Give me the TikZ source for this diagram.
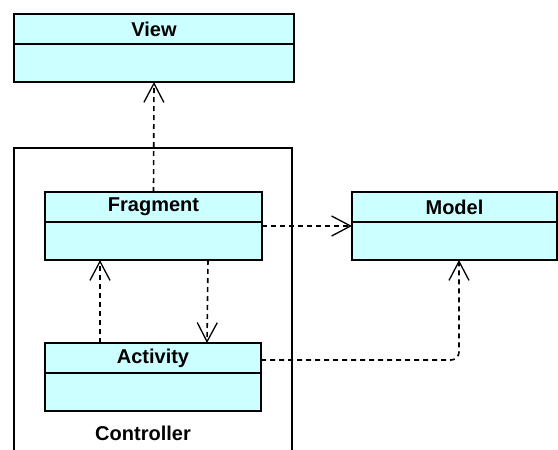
\documentclass[tikz,border=0pt]{standalone}
\usepackage{fontspec}
\setmainfont{Liberation Sans}
\usetikzlibrary{arrows.meta}
\definecolor{classfill}{RGB}{204,255,255}

\begin{document}
\begin{tikzpicture}[x=1pt,y=-1pt,
  classhead/.style={draw, line width=1.5pt, fill=classfill, inner sep=0pt, outer sep=0pt, minimum height=30pt, font=\fontsize{20}{23}\selectfont\bfseries},
  classbody/.style={draw, line width=1.5pt, fill=classfill, inner sep=0pt, outer sep=0pt, minimum height=38pt},
  depend/.style={dash pattern=on 5pt off 4pt, line width=1.6pt, -{Straight Barb[length=19pt,width=20pt,line width=1.3pt]}}]

\useasboundingbox (0,0) rectangle (558,450);

% Controller package frame
\draw[line width=1.5pt] (14,451) -- (14,148) -- (292,148) -- (292,451);
\node[font=\fontsize{20}{23}\selectfont\bfseries] (ctrl) at (143,433) {Controller};

% View class
\node[classhead, minimum width=280pt] (viewhead) at (154,29) {View};
\node[classbody, minimum width=280pt] (viewbody) at (154,63) {};

% Fragment class
\node[classhead, minimum width=217pt] (fraghead) at (153.5,207) {Fragment};
\node[classbody, minimum width=217pt] (fragbody) at (153.5,241) {};

% Model class
\node[classhead, minimum width=205pt] (modelhead) at (454.5,207) {Model};
\node[classbody, minimum width=205pt] (modelbody) at (454.5,241) {};

% Activity class
\node[classhead, minimum width=216pt] (acthead) at (153,358) {Activity};
\node[classbody, minimum width=216pt] (actbody) at (153,392) {};

% Dependencies
\draw[depend] (fraghead.north) -- (viewbody.south); % Fragment uses View
\draw[depend] ([yshift=-4pt]fragbody.north east) -- ([yshift=-4pt]modelbody.north west); % Fragment uses Model
\draw[depend] ([xshift=54.5pt]fragbody.south) -- ([xshift=54pt]acthead.north); % Fragment uses Activity
\draw[depend] ([xshift=-53pt]acthead.north) -- ([xshift=-53.5pt]fragbody.south); % Activity uses Fragment
\draw[depend, rounded corners=8pt] ([yshift=-2pt]acthead.east) -| ([xshift=4.5pt]modelbody.south); % Activity uses Model

\end{tikzpicture}
\end{document}
